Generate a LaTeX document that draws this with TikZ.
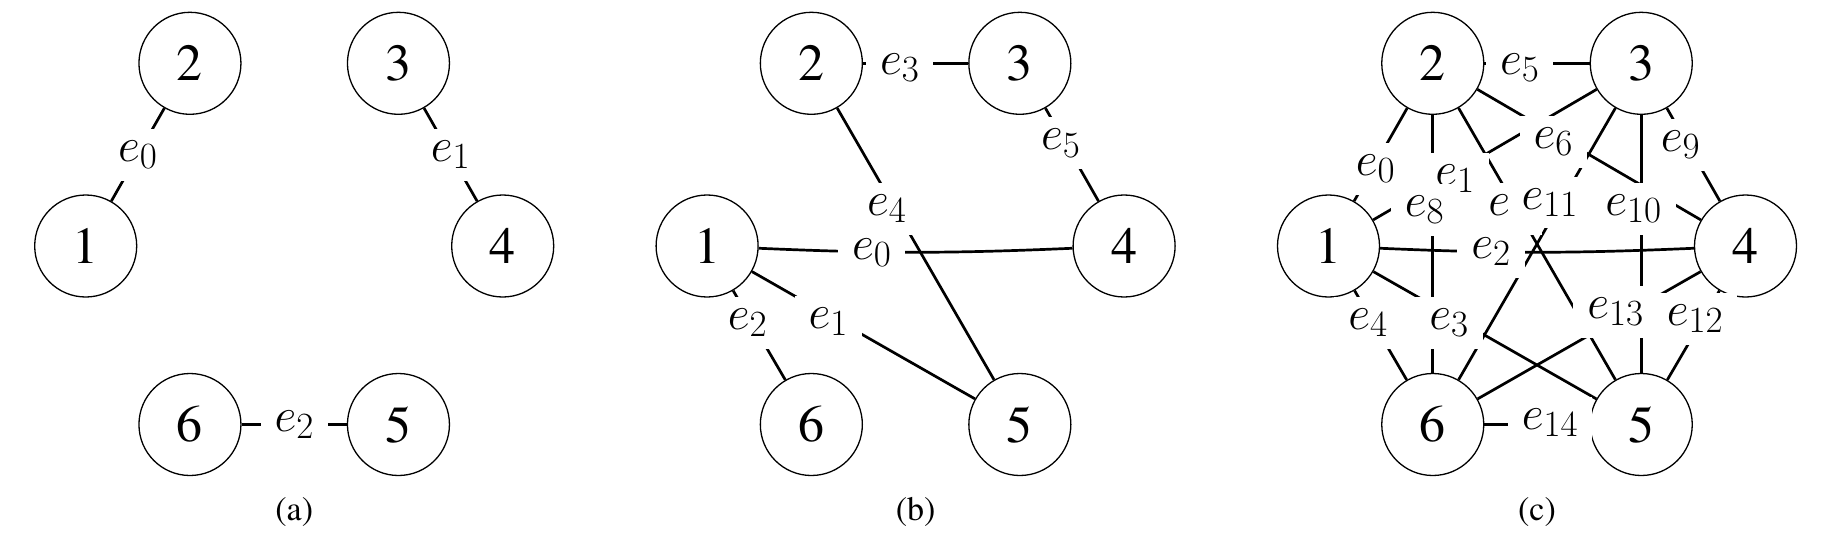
\RequirePackage{fix-cm}
\documentclass[tikz,border=0pt]{standalone}
\usepackage[no-math]{fontspec}
\IfFontExistsTF{texgyretermes-regular.otf}
  {\newfontfamily\timesfont{texgyretermes-regular.otf}}
  {\let\timesfont\rmfamily}
\usetikzlibrary{calc}
\DeclareMathSizes{48}{48}{37}{28}
\tikzset{
  vtx/.style={circle, draw, line width=1.3pt, minimum size=102pt, inner sep=0pt,
              font=\timesfont\fontsize{52}{52}\selectfont},
  edg/.style={line width=2.7pt},
  lbl/.style={fill=white, inner xsep=14pt, inner ysep=12pt,
              font=\fontsize{48}{48}\selectfont},
  captxt/.style={font=\timesfont\fontsize{34}{34}\selectfont, inner sep=0pt}
}
\begin{document}
\begin{tikzpicture}[x=1pt,y=-1pt]
\useasboundingbox (0,0) rectangle (1826,544);
% vertices of the three panels
\foreach \p/\cx in {a/294.2, b/915.6, c/1537}{
  \begin{scope}[xshift=\cx pt]
    \node[vtx] (\p1) at (-208.5,246) {1};
    \node[vtx] (\p2) at (-104.25,63.3) {2};
    \node[vtx] (\p3) at (104.25,63.3) {3};
    \node[vtx] (\p4) at (208.5,246) {4};
    \node[vtx] (\p5) at (104.25,424.5) {5};
    \node[vtx] (\p6) at (-104.25,424.5) {6};
    \node[captxt] (cap\p) at (0,512) {(\p)};
  \end{scope}
}
% ---------- panel (a)
\draw[edg] (a1) -- (a2);
\draw[edg] (a3) -- (a4);
\draw[edg] (a6) -- (a5);
\node[lbl] (la0) at ($(a1)!0.5!(a2)$) {$e_{0}$};
\node[lbl] (la1) at ($(a3)!0.5!(a4)$) {$e_{1}$};
\node[lbl] (la2) at ($(a6)!0.5!(a5)$) {$e_{2}$};
% ---------- panel (b)
\draw[edg] (b1) to[bend right=2.5] (b4);
\draw[edg] (b1) -- (b5);
\draw[edg] (b1) -- (b6);
\draw[edg] (b2) -- (b3);
\draw[edg] (b2) -- (b5);
\draw[edg] (b3) -- (b4);
\begin{scope}[xshift=915.6pt]
  \node[lbl] (lb0) at (-43.9,252.5) {$e_{0}$};
  \node[lbl] (lb1) at (-87.3,321.7) {$e_{1}$};
  \node[lbl] (lb2) at (-168.1,323) {$e_{2}$};
  \node[lbl] (lb3) at (-15.9,68) {$e_{3}$};
  \node[lbl] (lb4) at (-28.9,209) {$e_{4}$};
  \node[lbl] (lb5) at (145.2,143.3) {$e_{5}$};
\end{scope}
% ---------- panel (c)
\draw[edg] (c1) -- (c2);
\draw[edg] (c1) -- (c3);
\draw[edg] (c1) to[bend right=2.5] (c4);
\draw[edg] (c1) -- (c5);
\draw[edg] (c1) -- (c6);
\draw[edg] (c2) -- (c3);
\draw[edg] (c2) -- (c4);
\draw[edg] (c2) -- (c5);
\draw[edg] (c2) -- (c6);
\draw[edg] (c3) -- (c4);
\draw[edg] (c3) -- (c5);
\draw[edg] (c3) -- (c6);
\draw[edg] (c4) -- (c5);
\draw[edg] (c4) -- (c6);
\draw[edg] (c5) -- (c6);
\begin{scope}[xshift=1537pt]
  \node[lbl] (lc0) at (-161.5,169) {$e_{0}$};
  \node[lbl] (lc1) at (-82,179) {$e_{1}$};
  \node[lbl] (lc2) at (-46,252) {$e_{2}$};
  \node[lbl] (lc3) at (-88,323) {$e_{3}$};
  \node[lbl] (lc4) at (-169,323) {$e_{4}$};
  \node[lbl] (lc5) at (-17.3,67.5) {$e_{5}$};
  \node[lbl] (lc6) at (16.3,141.7) {$e_{6}$};
  \node[lbl] (lc7) at (-29,209) {$e_{7}$};
  \node[lbl] (lc8) at (-112.5,210) {$e_{8}$};
  \node[lbl] (lc9) at (143.5,145) {$e_{9}$};
  \node[lbl] (lc10) at (96.5,209) {$e_{10}$};
  \node[lbl] (lc11) at (12.7,202.5) {$e_{11}$};
  \node[lbl] (lc12) at (158,319) {$e_{12}$};
  \node[lbl] (lc13) at (78.5,312) {$e_{13}$};
  \node[lbl] (lc14) at (13,423) {$e_{14}$};
\end{scope}
\end{tikzpicture}
\end{document}
